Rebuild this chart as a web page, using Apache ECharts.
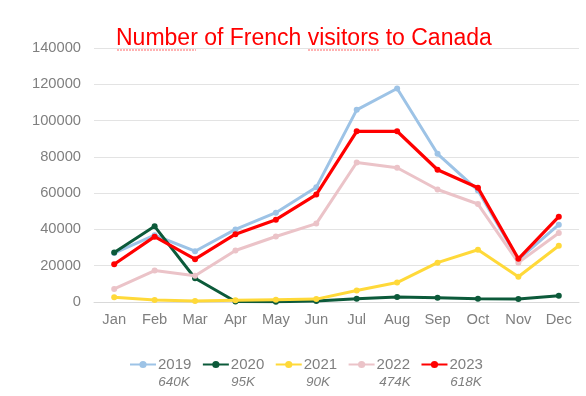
<!DOCTYPE html>
<html>
<head>
<meta charset="utf-8">
<script src="https://cdn.jsdelivr.net/npm/echarts@6/dist/echarts.min.js"></script>
<style>
  html, body { margin: 0; padding: 0; background: #ffffff; }
  #chart { width: 586px; height: 396px; }
</style>
</head>
<body>
<div id="chart"></div>
<script>
const months = ["Jan","Feb","Mar","Apr","May","Jun","Jul","Aug","Sep","Oct","Nov","Dec"];
const years = ["2019","2020","2021","2022","2023"];
const totals = ["640K","95K","90K","474K","618K"];
const v2019 = [27000, 36800, 28000, 40000, 49200, 63200, 105900, 117700, 81700, 61500, 23300, 42600];
const v2020 = [27300, 41700, 13100, 300, 200, 500, 1800, 2800, 2400, 1800, 1600, 3400];
const v2021 = [2600, 1100, 500, 1000, 1300, 1600, 6300, 10700, 21700, 28800, 13900, 31000];
const v2022 = [7200, 17300, 14500, 28400, 36100, 43200, 76900, 74000, 62000, 54000, 21700, 38000];
const v2023 = [20800, 36000, 23600, 37400, 45400, 59200, 94100, 94100, 72900, 63000, 23800, 47000];
const yTicks = [0, 20000, 40000, 60000, 80000, 100000, 120000, 140000];

const seriesValues = [v2019, v2020, v2021, v2022, v2023];
const colors = ["#9DC3E6", "#0C5A3A", "#FFD939", "#EBC3C8", "#FF0000"];
const FONT = "'Liberation Sans', Arial, sans-serif";
const GRAY = "#7f7f7f";

const chart = echarts.init(document.getElementById('chart'), null, { renderer: 'canvas' });

const totalX = [174, 243, 318, 395, 466];

const option = {
  animation: false,
  backgroundColor: '#ffffff',
  title: {
    text: 'Number of French visitors to Canada',
    left: 111,
    top: 22,
    textStyle: { color: '#FF0000', fontSize: 23, fontWeight: 'normal', fontFamily: FONT }
  },
  grid: { left: 94, right: 7, top: 48, bottom: 94, containLabel: false },
  legend: {
    data: years,
    left: 124,
    top: 352,
    itemWidth: 26,
    itemHeight: 9,
    itemGap: 10.5,
    textStyle: { color: GRAY, fontSize: 15, fontFamily: FONT, padding: [0, 0, 0, -3] }
  },
  xAxis: {
    type: 'category',
    data: months,
    boundaryGap: true,
    axisLine: { show: true, lineStyle: { color: '#d9d9d9', width: 1 } },
    axisTick: { show: false },
    axisLabel: { color: GRAY, fontSize: 14.7, fontFamily: FONT, margin: 10 }
  },
  yAxis: {
    type: 'value',
    min: yTicks[0],
    max: yTicks[yTicks.length - 1],
    interval: yTicks[1] - yTicks[0],
    axisLine: { show: false },
    axisTick: { show: false },
    axisLabel: { color: GRAY, fontSize: 14.7, fontFamily: FONT, margin: 13, formatter: (v) => String(v) },
    splitLine: { lineStyle: { color: '#e3e3e3', width: 1 } }
  },
  series: years.map((y, i) => ({
    name: y,
    type: 'line',
    data: seriesValues[i],
    symbol: 'circle',
    symbolSize: 6,
    showSymbol: true,
    itemStyle: { color: colors[i] },
    lineStyle: { color: colors[i], width: i === 4 ? 3.2 : 3 },
    z: 2 + i
  })),
  graphic: [
    { type: 'line', shape: { x1: 117, y1: 50, x2: 196, y2: 50 }, style: { stroke: '#FF0000', lineWidth: 1, lineDash: [2, 1], opacity: 0.6 }, z: 100 },
    { type: 'line', shape: { x1: 308, y1: 50, x2: 379, y2: 50 }, style: { stroke: '#FF0000', lineWidth: 1, lineDash: [2, 1], opacity: 0.6 }, z: 100 }
  ].concat(totals.map((t, i) => ({
    type: 'text',
    x: totalX[i],
    y: 382,
    style: {
      text: t,
      fill: GRAY,
      font: 'italic 13.5px ' + FONT,
      textAlign: 'center',
      textVerticalAlign: 'middle'
    }
  })))
};

chart.setOption(option);
</script>
</body>
</html>
